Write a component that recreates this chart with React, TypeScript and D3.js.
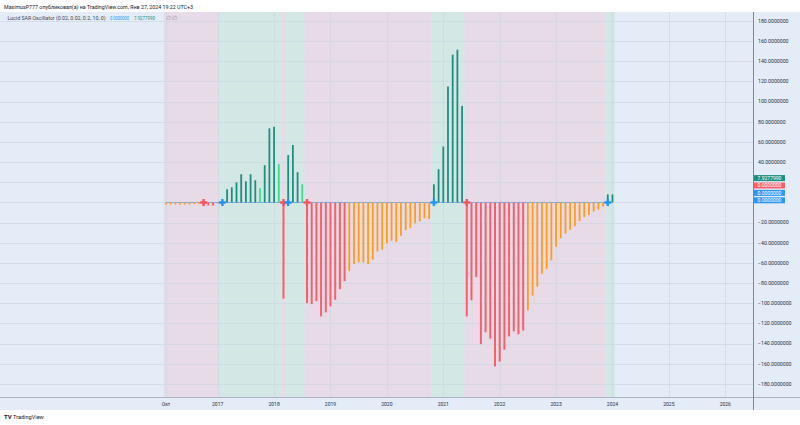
import { useEffect, useRef } from 'react';
import * as d3 from 'd3';

// monthly oscillator values, first bar is the "Окт" label, index 11 = Jan 2017
const values = [
  -2, -2, -2, -2, -2, -2, -1.5, -1.5, -2, -3, -3, -0.8,
  0.5, 13, 15, 20, 28, 21, 28, 22, 14, 37, 73.5, 75,
  38, -95.5, 47, 57, 30, 18, -99.8, -100.8, -97.8, -113, -109, -103,
  -96.5, -86, -78, -68, -61, -59.4, -59.4, -61, -56.7, -48.5, -46.8, -40.5,
  -38, -39, -33, -27.5, -25.2, -20.6, -18.6, -15.6, -16.3, 18, 33, 55.5,
  115, 146.6, 151.5, 95.8, -113, -97, -74, -140.5, -128.7, -135, -162.6, -157.8,
  -146, -132.8, -127.8, -130.7, -127, -106.9, -92.3, -83.6, -70.6, -66, -57.4, -43.8,
  -35.5, -30.8, -27.2, -23.6, -18.3, -14.6, -12.3, -9, -7, -4, 8, 7.93,
];

// u = up, ue = up easing, d = down, de = down easing
const states = [
  'de', 'de', 'de', 'de', 'de', 'de', 'de', 'de', 'd', 'd', 'd', 'd',
  'u', 'u', 'u', 'u', 'u', 'u', 'u', 'u', 'ue', 'u', 'u', 'u',
  'ue', 'd', 'u', 'u', 'u', 'ue', 'd', 'd', 'd', 'd', 'd', 'd',
  'd', 'd', 'd', 'de', 'de', 'de', 'de', 'de', 'de', 'de', 'de', 'de',
  'de', 'de', 'de', 'de', 'de', 'de', 'de', 'de', 'de', 'u', 'u', 'u',
  'u', 'u', 'u', 'u', 'd', 'd', 'd', 'd', 'd', 'd', 'd', 'd',
  'd', 'd', 'd', 'd', 'd', 'de', 'de', 'de', 'de', 'de', 'de', 'de',
  'de', 'de', 'de', 'de', 'de', 'de', 'de', 'de', 'de', 'de', 'u', 'u',
];

const flipDown = [8, 25, 30, 64];
const flipUp = [12, 26, 57, 94];

const timeLabels = ['Окт', '2017', '2018', '2019', '2020', '2021', '2022', '2023', '2024', '2025', '2026'];
const timeIndex = [0, 11, 23, 35, 47, 59, 71, 83, 95, 107, 119];

const lastValues = [7.927799, 0, 0, 0];
const lastKinds = ['u', 'd', 'zero', 'zero'];

const colors: Record<string, string> = {
  u: '#1f8e7f',
  ue: '#3ddc8a',
  d: '#f5606b',
  de: '#ff9c1a',
  zero: '#2f96f0',
};

const W = 800;
const H = 425;
const plot = { left: 0, right: 753, top: 12, bottom: 397 };
const font = 'Roboto, "Liberation Sans", Arial, sans-serif';

const App = () => {
  const svgRef = useRef<SVGSVGElement>(null);

  useEffect(() => {
    if (!svgRef.current) return;
    document.body.style.margin = '0';

    const svg = d3.select(svgRef.current);
    svg.selectAll('*').remove();

    const x = d3.scaleLinear().domain([-35.32, 124.9]).range([plot.left, plot.right]);
    const y = d3.scaleLinear().domain([-192.9, 188.9]).range([plot.bottom, plot.top]);

    // chart background
    svg.append('rect')
      .attr('x', 0).attr('y', plot.top)
      .attr('width', W).attr('height', 410 - plot.top)
      .attr('fill', '#e3ecf7');

    // trend bands, merged into runs
    const runs: { start: number; end: number; up: boolean }[] = [];
    states.forEach((s, i) => {
      const up = s[0] === 'u';
      const last = runs[runs.length - 1];
      if (last && last.up === up) last.end = i;
      else runs.push({ start: i, end: i, up });
    });
    svg.append('g')
      .selectAll('rect')
      .data(runs)
      .enter()
      .append('rect')
      .attr('x', d => x(d.start - 0.5))
      .attr('y', plot.top)
      .attr('width', d => x(d.end + 0.5) - x(d.start - 0.5))
      .attr('height', plot.bottom - plot.top)
      .attr('fill', d => (d.up ? '#d3e7e5' : '#e7dbe7'));

    // grid
    const yTicks = d3.range(-180, 181, 20);
    svg.append('g')
      .selectAll('line')
      .data(yTicks)
      .enter()
      .append('line')
      .attr('x1', plot.left).attr('x2', plot.right)
      .attr('y1', d => Math.round(y(d)) + 0.5).attr('y2', d => Math.round(y(d)) + 0.5)
      .attr('stroke', '#c9d3e0').attr('stroke-opacity', 0.6);
    svg.append('g')
      .selectAll('line')
      .data(timeIndex)
      .enter()
      .append('line')
      .attr('x1', d => Math.round(x(d)) + 0.5).attr('x2', d => Math.round(x(d)) + 0.5)
      .attr('y1', plot.top).attr('y2', plot.bottom)
      .attr('stroke', '#c9d3e0').attr('stroke-opacity', 0.6);

    // zero line
    svg.append('line')
      .attr('x1', x(0)).attr('x2', x(values.length - 1))
      .attr('y1', y(0)).attr('y2', y(0))
      .attr('stroke', '#7eaee6').attr('stroke-width', 1);

    // histogram bars
    svg.append('g')
      .selectAll('line')
      .data(values)
      .enter()
      .append('line')
      .attr('x1', (_, i) => x(i)).attr('x2', (_, i) => x(i))
      .attr('y1', y(0))
      .attr('y2', d => y(d))
      .attr('stroke', (_, i) => colors[states[i]])
      .attr('stroke-width', (_, i) => (states[i] === 'd' ? 2 : 1.8));

    // SAR flip crosses
    const cross = (idx: number[], color: string) => {
      const g = svg.append('g');
      idx.forEach(i => {
        const cx = x(i);
        const cy = y(0);
        g.append('rect').attr('x', cx - 3.5).attr('y', cy - 1.2).attr('width', 7).attr('height', 2.4).attr('fill', color);
        g.append('rect').attr('x', cx - 1.2).attr('y', cy - 3.5).attr('width', 2.4).attr('height', 7).attr('fill', color);
      });
    };
    cross(flipDown, '#f7525f');
    cross(flipUp, '#2196f3');

    // plot borders
    svg.append('line')
      .attr('x1', 0).attr('x2', W)
      .attr('y1', plot.bottom + 0.5).attr('y2', plot.bottom + 0.5)
      .attr('stroke', '#9ea6b3').attr('stroke-width', 0.8);
    svg.append('line')
      .attr('x1', plot.right + 0.5).attr('x2', plot.right + 0.5)
      .attr('y1', plot.top).attr('y2', 410)
      .attr('stroke', '#7f8795').attr('stroke-width', 1);

    // right price axis
    const fmt = d3.format('.7f');
    svg.append('g')
      .selectAll('text')
      .data(yTicks.filter(v => v !== 0 && v !== 20))
      .enter()
      .append('text')
      .attr('x', plot.right + 5)
      .attr('y', d => y(d))
      .attr('dy', '0.35em')
      .style('font-family', font)
      .style('font-size', '5.2px')
      .style('fill', '#2a2e39')
      .text(d => fmt(d));

    // last value tags stacked upward from zero
    const tagH = 6;
    const tags = svg.append('g');
    lastValues.forEach((v, k) => {
      const pos = lastValues.length - 1 - k;
      const cy = y(0) - 2.2 - pos * 7.4;
      tags.append('rect')
        .attr('x', plot.right + 1).attr('y', cy - tagH / 2)
        .attr('width', 31).attr('height', tagH)
        .attr('fill', colors[lastKinds[k]]);
      tags.append('text')
        .attr('x', plot.right + 16.5).attr('y', cy)
        .attr('dy', '0.36em')
        .attr('text-anchor', 'middle')
        .style('font-family', font)
        .style('font-size', '5px')
        .style('fill', '#ffffff')
        .text(fmt(v));
    });

    // time axis labels
    svg.append('g')
      .selectAll('text')
      .data(timeIndex)
      .enter()
      .append('text')
      .attr('x', d => x(d))
      .attr('y', 404)
      .attr('dy', '0.35em')
      .attr('text-anchor', 'middle')
      .style('font-family', font)
      .style('font-size', '5px')
      .style('fill', '#2a2e39')
      .text((_, i) => timeLabels[i]);

    // header and legend
    svg.append('text')
      .attr('x', 4).attr('y', 6.5).attr('dy', '0.35em')
      .attr('textLength', 189).attr('lengthAdjust', 'spacingAndGlyphs')
      .style('font-family', font).style('font-size', '6px').style('fill', '#131722')
      .text('MaximusP777 опубликовал(а) на TradingView.com, Янв 27, 2024 19:22 UTC+3');

    svg.append('text')
      .attr('x', 7.5).attr('y', 18).attr('dy', '0.35em')
      .attr('textLength', 98).attr('lengthAdjust', 'spacingAndGlyphs')
      .style('font-family', font).style('font-size', '5.6px').style('fill', '#434651')
      .text('Lucid SAR Oscillator (0.02, 0.02, 0.2, 10, 0)');
    svg.append('text')
      .attr('x', 110).attr('y', 18).attr('dy', '0.35em')
      .attr('textLength', 19).attr('lengthAdjust', 'spacingAndGlyphs')
      .style('font-family', font).style('font-size', '5.4px').style('fill', '#2196f3')
      .text(fmt(0));
    svg.append('text')
      .attr('x', 134).attr('y', 18).attr('dy', '0.35em')
      .attr('textLength', 21).attr('lengthAdjust', 'spacingAndGlyphs')
      .style('font-family', font).style('font-size', '5.4px').style('fill', colors.u)
      .text(fmt(lastValues[0]));
    svg.append('text')
      .attr('x', 166).attr('y', 18).attr('dy', '0.35em')
      .style('font-family', font).style('font-size', '5.6px').style('fill', '#9598a1')
      .text('∅  ∅');

    // footer
    svg.append('text')
      .attr('x', 4).attr('y', 417).attr('dy', '0.35em')
      .style('font-family', font).style('font-size', '6px').style('font-weight', 'bold').style('fill', '#131722')
      .text('TV');
    svg.append('text')
      .attr('x', 13).attr('y', 417).attr('dy', '0.35em')
      .style('font-family', font).style('font-size', '5.6px').style('fill', '#131722')
      .text('TradingView');
  }, []);

  return (
    <svg ref={svgRef} width={W} height={H} style={{ display: 'block', background: '#ffffff' }}></svg>
  );
};

export default App;
